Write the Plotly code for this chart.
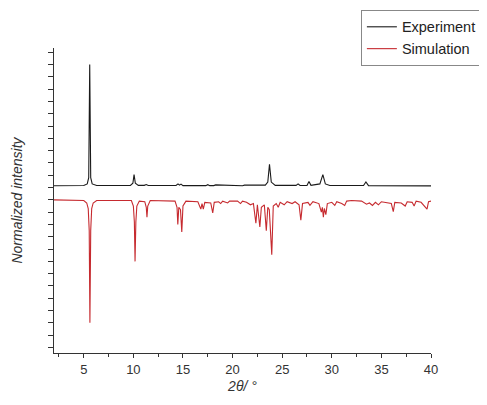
import plotly.graph_objects as go

# Experiment pattern (2theta, normalized intensity, offset upward)
exp_x = [2.0, 5.0, 5.35, 5.5, 5.6, 5.7, 5.85, 6.3, 9.7, 9.95, 10.07, 10.2, 10.5,
         11.1, 11.3, 11.5, 14.3, 14.5, 14.65, 14.8, 15.0, 17.3, 17.5, 17.7, 18.1, 18.3,
         21.0, 21.2, 23.3, 23.55, 23.72, 23.9, 24.3, 26.4, 26.6, 26.8, 27.5, 27.7, 27.9,
         28.8, 29.1, 29.35, 29.8, 33.2, 33.44, 33.7, 40.0]
exp_y = [1.15, 1.17, 1.3, 1.8, 11.0, 1.8, 1.3, 1.17, 1.17, 1.35, 2.05, 1.35, 1.18,
         1.18, 1.25, 1.17, 1.17, 1.3, 1.2, 1.28, 1.16, 1.16, 1.24, 1.16, 1.16, 1.22,
         1.15, 1.2, 1.2, 1.45, 2.9, 1.45, 1.18, 1.18, 1.3, 1.17, 1.17, 1.5, 1.18,
         1.3, 2.05, 1.3, 1.17, 1.17, 1.45, 1.16, 1.14]

# Simulated pattern (plotted downward)
sim_x = [2.0, 5.0, 5.3, 5.45, 5.55, 5.62, 5.7, 5.8, 5.95, 6.3, 9.8, 10.0, 10.1, 10.17,
         10.25, 10.35, 10.6, 11.15, 11.3, 11.37, 11.45, 11.7, 14.2, 14.4, 14.48, 14.58,
         14.75, 14.88, 15.0, 15.3, 16.5, 16.8, 16.92, 17.05, 17.2, 17.8, 18.0, 18.15,
         18.6, 18.8, 19.0, 19.5, 19.7, 20.5, 20.8, 21.0, 21.4, 21.8, 22.1, 22.35, 22.5,
         22.75, 22.9, 23.2, 23.4, 23.55, 23.7, 23.95, 24.1, 24.4, 24.6, 24.8, 25.2, 25.5,
         26.0, 26.3, 26.7, 26.88, 27.05, 27.6, 27.8, 28.1, 28.7, 28.95, 29.05, 29.15,
         29.25, 29.4, 29.55, 30.0, 30.3, 30.5, 31.0, 31.3, 31.5, 32.0, 33.0, 33.5, 33.8,
         34.1, 34.4, 34.7, 35.0, 35.5, 36.0, 36.2, 36.35, 37.0, 37.4, 37.6, 38.1, 38.3,
         38.5, 39.0, 39.6, 39.75, 40.0]
sim_y = [0.0, -0.05, -0.25, -0.7, -2.5, -10.0, -2.5, -0.7, -0.25, -0.05, -0.05, -0.5,
         -1.8, -5.0, -1.8, -0.5, -0.1, -0.15, -0.6, -1.4, -0.5, -0.05, -0.1, -0.6, -2.0,
         -0.6, -0.8, -2.6, -0.5, -0.1, -0.15, -0.75, -0.3, -0.75, -0.2, -0.25, -1.05,
         -0.2, -0.15, -0.3, -0.1, -0.25, -0.1, -0.1, -0.3, -0.1, -0.2, -0.4, -0.3, -1.9,
         -0.4, -2.2, -0.6, -0.4, -2.5, -0.6, -0.8, -4.45, -0.5, -0.3, -0.6, -0.2, -0.4,
         -0.15, -0.3, -0.15, -0.4, -1.65, -0.3, -0.2, -0.45, -0.15, -0.3, -1.0, -0.6,
         -1.4, -0.7, -1.2, -0.3, -0.2, -0.45, -0.15, -0.3, -0.45, -0.1, -0.05, -0.1,
         -0.35, -0.25, -0.45, -0.2, -0.4, -0.15, -0.2, -0.3, -0.95, -0.2, -0.25, -0.5,
         -0.15, -0.2, -0.5, -0.1, -0.2, -0.75, -0.15, -0.1]

x_ticks = [5, 10, 15, 20, 25, 30, 35, 40]

FONT = "Arial, Liberation Sans, sans-serif"

fig = go.Figure()
fig.add_trace(go.Scatter(x=exp_x, y=exp_y, mode="lines", name="Experiment",
                         line=dict(color="#1a1a1a", width=1.1)))
fig.add_trace(go.Scatter(x=sim_x, y=sim_y, mode="lines", name="Simulation",
                         line=dict(color="#c62a2f", width=1.1)))

fig.update_layout(
    width=487, height=405,
    margin=dict(l=46, r=64, t=40, b=60, autoexpand=False),
    paper_bgcolor="white", plot_bgcolor="white",
    font=dict(family=FONT, size=13, color="#333"),
    showlegend=True,
    legend=dict(x=0.814, y=1.125, xanchor="left", yanchor="top",
                bgcolor="white", bordercolor="#888", borderwidth=1,
                font=dict(family=FONT, size=14.5, color="#222"),
                tracegroupgap=0, itemwidth=30),
    xaxis=dict(range=[2, 40], showgrid=False, zeroline=False, automargin=False,
               showline=True, linecolor="#333", linewidth=1,
               ticks="outside", ticklen=4, tickcolor="#333",
               tickvals=x_ticks, ticktext=[str(v) for v in x_ticks],
               minor=dict(dtick=2.5, tick0=0, ticks="outside", ticklen=3, tickcolor="#333"),
               tickfont=dict(size=13, color="#333"),
               title=dict(text="<i>2θ/ °</i>", font=dict(size=14, color="#333"), standoff=5)),
    yaxis=dict(range=[-12.45, 12.35], showgrid=False, zeroline=False, automargin=False,
               showline=True, linecolor="#333", linewidth=1,
               ticks="outside", ticklen=5, tickcolor="#333",
               tick0=0, dtick=1, showticklabels=False,
               title=dict(text="<i>Normalized intensity</i>", font=dict(size=14, color="#333"), standoff=22)),
)

fig.write_html("out.html")
